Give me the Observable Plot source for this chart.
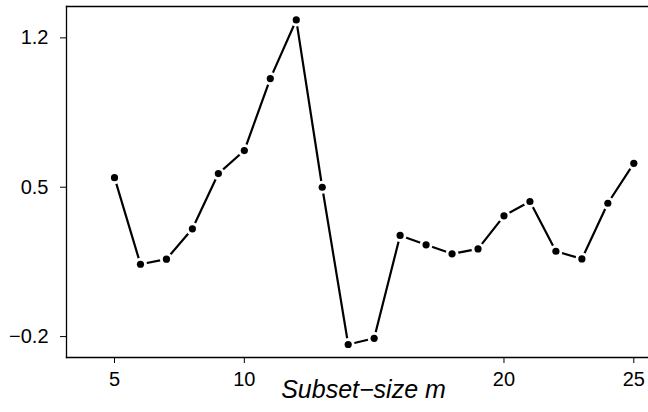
<!DOCTYPE html>
<html>
<head>
<meta charset="utf-8">
<script src="https://cdn.jsdelivr.net/npm/d3@7"></script>
<script src="https://cdn.jsdelivr.net/npm/@observablehq/plot@0.6"></script>
<style>
  html, body { margin: 0; padding: 0; background: #fff; }
  svg { display: block; }
</style>
</head>
<body>
<div id="chart"></div>
<script>
const subsetSize = [5,6,7,8,9,10,11,12,13,14,15,16,17,18,19,20,21,22,23,24,25];
const values = [0.545,0.139,0.163,0.305,0.564,0.672,1.009,1.284,0.500,-0.237,-0.208,0.274,0.230,0.188,0.211,0.366,0.433,0.200,0.164,0.425,0.612];
const xTicks = [5,10,20,25];
const yTicks = [-0.2,0.5,1.2];
const xDomain = [3.151, 25.566];
const yDomain = [-0.298, 1.347];
const xLabel = ["Subset\u2212size m"];

const data = subsetSize.map((m, i) => ({m, v: values[i]}));

const chart = Plot.plot({
  width: 648,
  height: 412,
  marginLeft: 66,
  marginRight: 0,
  marginTop: 6,
  marginBottom: 55,
  style: {fontFamily: "'Liberation Sans', Arial, sans-serif", fontSize: "20px", color: "#000", background: "#fff"},
  x: {domain: xDomain},
  y: {domain: yDomain},
  marks: [
    Plot.frame({anchor: "top", stroke: "#000", strokeWidth: 1.3}),
    Plot.frame({anchor: "left", stroke: "#000", strokeWidth: 1.3}),
    Plot.frame({anchor: "bottom", stroke: "#000", strokeWidth: 1.3}),
    Plot.axisX({ticks: xTicks, tickSize: 6, tickPadding: 8, label: null, fontSize: 20, tickFormat: d3.format("d")}),
    Plot.axisY({ticks: yTicks, tickSize: 6, tickPadding: 12, label: null, fontSize: 20}),
    Plot.line(data, {x: "m", y: "v", stroke: "#000", strokeWidth: 2.2}),
    Plot.dot(data, {x: "m", y: "v", r: 6.5, fill: "#fff", stroke: "none"}),
    Plot.dot(data, {x: "m", y: "v", r: 3.6, fill: "#000", stroke: "none"}),
    Plot.text(xLabel, {text: d => d, frameAnchor: "bottom", dy: 40, dx: 6, fontSize: 25, fontStyle: "italic", fill: "#000"})
  ]
});
d3.select(chart).selectAll("text").each(function() {
  if (this.textContent === xLabel[0]) {
    this.style.setProperty("font-size", "25px", "important");
    this.style.setProperty("font-style", "italic", "important");
  } else {
    this.style.setProperty("font-size", "20px", "important");
  }
});
document.getElementById("chart").appendChild(chart);
</script>
</body>
</html>
